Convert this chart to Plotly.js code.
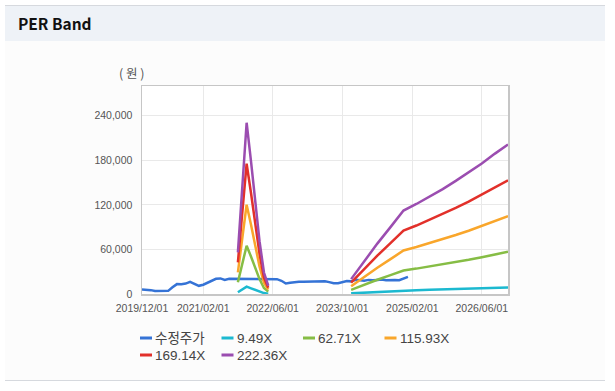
<!DOCTYPE html>
<html>
<head>
<meta charset="utf-8">
<script src="https://cdn.plot.ly/plotly-3.0.1.min.js"></script>
<style>
  html, body { margin: 0; padding: 0; background: #ffffff; }
  #wrap { position: relative; width: 615px; height: 391px; overflow: hidden; }
  #frame { position: absolute; left: 5px; top: 5px; width: 600px; height: 374px;
           border-top: 1px solid #d6d9de; border-bottom: 1px solid #d6d9de; background: #fcfcfc; }
  #band { position: absolute; left: 5px; top: 6px; width: 600px; height: 35px; background: #eef2f7; }
  #chart { position: absolute; left: 0; top: 0; width: 615px; height: 391px; }
</style>
</head>
<body>
<div id="wrap">
  <div id="frame"></div>
  <div id="band"></div>
  <div id="chart"></div>
</div>
<script>
// ---- Data ----
var priceDates = [
  '2019-12-01','2020-01-01','2020-02-01','2020-03-01','2020-04-01','2020-05-01','2020-06-01','2020-07-01',
  '2020-08-01','2020-09-01','2020-10-01','2020-11-01','2020-12-01','2021-01-01','2021-02-01','2021-03-01',
  '2021-04-01','2021-05-01','2021-06-01','2021-07-01','2021-08-01','2021-09-01','2021-10-01','2021-11-01',
  '2021-12-01','2022-01-01','2022-02-01','2022-03-01','2022-04-01','2022-05-01','2022-06-01','2022-07-01',
  '2022-08-01','2022-09-01','2022-10-01','2022-11-01','2022-12-01','2023-01-01','2023-02-01','2023-03-01',
  '2023-04-01','2023-05-01','2023-06-01','2023-07-01','2023-08-01','2023-09-01','2023-10-01','2023-11-01',
  '2023-12-01','2024-01-01','2024-02-01','2024-03-01','2024-04-01','2024-05-01','2024-06-01','2024-07-01',
  '2024-08-01','2024-09-01','2024-10-01','2024-11-01','2024-12-01','2025-01-01'
];
var priceValues = [
  6200, 6000, 5200, 4000, 4000, 4000, 4200, 9000,
  13300, 13000, 14000, 16400, 14000, 11000, 12500, 15000,
  17000, 20500, 21000, 19000, 20500, 20500, 20500, 20000,
  20000, 20000, 20500, 21000, 20500, 20500, 20500, 20000,
  17800, 14200, 15000, 16000, 16400, 16400, 16500, 17000,
  17500, 17000, 17000, 16000, 14500, 14500, 16000, 17500,
  17000, 19000, 18500, 18000, 19000, 18500, 19000, 19500,
  18500, 19000, 19000, 18500, 21000, 23000
];

var bandDates = [
  '2021-10-01','2021-11-01','2021-12-01','2022-01-01','2022-02-01','2022-03-01','2022-04-01','2022-05-01',
  '2023-01-01',
  '2023-12-01','2024-03-01','2024-06-01','2024-09-01','2024-12-01','2025-03-01','2025-06-01',
  '2025-09-01','2025-12-01','2026-03-01','2026-06-01','2026-09-01','2026-12-01'
];
var band949 = [
  2391, 6074, 9841, 7592, 5314, 3037, 1234, 475,
  null,
  854, 1898, 2894, 3843, 4792, 5172, 5599, 6026, 6501, 6975, 7497, 8067, 8588
];
var band6271 = [
  15803, 40134, 65030, 50168, 35118, 20067, 8152, 3136,
  null,
  5644, 12542, 19127, 25398, 31669, 34177, 36999, 39821, 42956, 46092, 49541, 53304, 56753
];
var band11593 = [
  29214, 74195, 120219, 92744, 64921, 37098, 15071, 5797,
  null,
  10434, 23186, 35359, 46952, 58545, 63182, 68399, 73616, 79412, 85209, 91585, 98541, 104917
];
var band16914 = [
  42623, 108250, 175398, 135312, 94718, 54125, 21988, 8457,
  null,
  15223, 33828, 51588, 68502, 85416, 92181, 99793, 107404, 115861, 124318, 133621, 143769, 153072
];
var band22236 = [
  56035, 142310, 230587, 177888, 124522, 71155, 28907, 11118,
  null,
  20012, 44472, 67820, 90056, 112292, 121186, 131192, 141199, 152317, 163435, 175664, 189006, 201236
];

var seriesNames = ['수정주가', '9.49X', '62.71X', '115.93X', '169.14X', '222.36X'];
var seriesColors = ['#3573d6', '#1cb9d0', '#86bd45', '#f9a62b', '#e2302a', '#9b4db0'];

var xTickVals = ['2019-12-01','2021-02-01','2022-06-01','2023-10-01','2025-02-01','2026-06-01'];
var xTickText = ['2019/12/01','2021/02/01','2022/06/01','2023/10/01','2025/02/01','2026/06/01'];

// ---- Traces ----
var bandSeries = [band949, band6271, band11593, band16914, band22236];
var traces = [{
  x: priceDates, y: priceValues, type: 'scatter', mode: 'lines',
  name: seriesNames[0], line: {color: seriesColors[0], width: 2.5}
}];
bandSeries.forEach(function (vals, i) {
  traces.push({
    x: bandDates, y: vals, type: 'scatter', mode: 'lines', connectgaps: false,
    name: seriesNames[i + 1], line: {color: seriesColors[i + 1], width: 2.5}
  });
});

// ---- Geometry (pixels) ----
var W = 615, H = 391;
var M = {l: 142, r: 107, t: 86, b: 97};
var PW = W - M.l - M.r, PH = H - M.t - M.b;
function px2x(px) { return (px - M.l) / PW; }
function py2y(py) { return (H - M.b - py) / PH; }

// Legend laid out like the reference: 4 columns, short line keys
var legendCols = 4, legendPitch = 81.5, legendLeft = 140, legendTop = 338, legendRowGap = 17;
var shapes = [], annotations = [];
seriesNames.forEach(function (name, i) {
  var col = i % legendCols, row = Math.floor(i / legendCols);
  var x0 = legendLeft + col * legendPitch;
  var yy = legendTop + row * legendRowGap;
  shapes.push({
    type: 'line', xref: 'paper', yref: 'paper', layer: 'above',
    x0: px2x(x0), x1: px2x(x0 + 12), y0: py2y(yy), y1: py2y(yy),
    line: {color: seriesColors[i], width: 3}
  });
  annotations.push({
    text: name, xref: 'paper', yref: 'paper', showarrow: false,
    x: px2x(x0 + 13), y: py2y(yy), xanchor: 'left', yanchor: 'middle',
    font: {family: 'Liberation Sans, Noto Sans CJK KR, sans-serif', size: 13.5, color: '#444444'}
  });
});
annotations.push({
  text: '( 원 )', xref: 'paper', yref: 'paper',
  x: px2x(147), y: py2y(72), xanchor: 'right', yanchor: 'middle', showarrow: false,
  font: {family: 'Noto Sans CJK KR, sans-serif', size: 12.5, color: '#555555'}
});

var tickFont = {family: 'Liberation Sans, Arial, sans-serif', size: 10.5, color: '#555555'};

var layout = {
  width: W, height: H,
  paper_bgcolor: 'rgba(0,0,0,0)',
  plot_bgcolor: '#ffffff',
  margin: {l: M.l, r: M.r, t: M.t, b: M.b, pad: 0},
  title: {
    text: '<b>PER Band</b>',
    xref: 'container', yref: 'container',
    x: 18 / W, xanchor: 'left',
    y: 1 - 25 / H, yanchor: 'middle',
    font: {family: 'Noto Sans CJK KR, Noto Sans, sans-serif', size: 15.5, color: '#111111'}
  },
  showlegend: false,
  xaxis: {
    type: 'date',
    range: ['2019-12-01', '2026-12-01'],
    tickmode: 'array', tickvals: xTickVals, ticktext: xTickText,
    showgrid: true, gridcolor: '#e9e9e9', gridwidth: 1,
    showline: true, linecolor: '#c6c6c6', linewidth: 1.5, mirror: true,
    zeroline: false, ticks: '', tickfont: tickFont, ticklabelstandoff: 4
  },
  yaxis: {
    range: [0, 280000],
    tickmode: 'linear', tick0: 0, dtick: 60000,
    tickformat: ',d',
    showgrid: true, gridcolor: '#e9e9e9', gridwidth: 1,
    showline: true, linecolor: '#c6c6c6', linewidth: 1.5, mirror: true,
    zeroline: false, ticks: '', tickfont: tickFont, ticklabelstandoff: 6
  },
  shapes: shapes,
  annotations: annotations
};

Plotly.newPlot('chart', traces, layout, {displayModeBar: false, staticPlot: true});
</script>
</body>
</html>
